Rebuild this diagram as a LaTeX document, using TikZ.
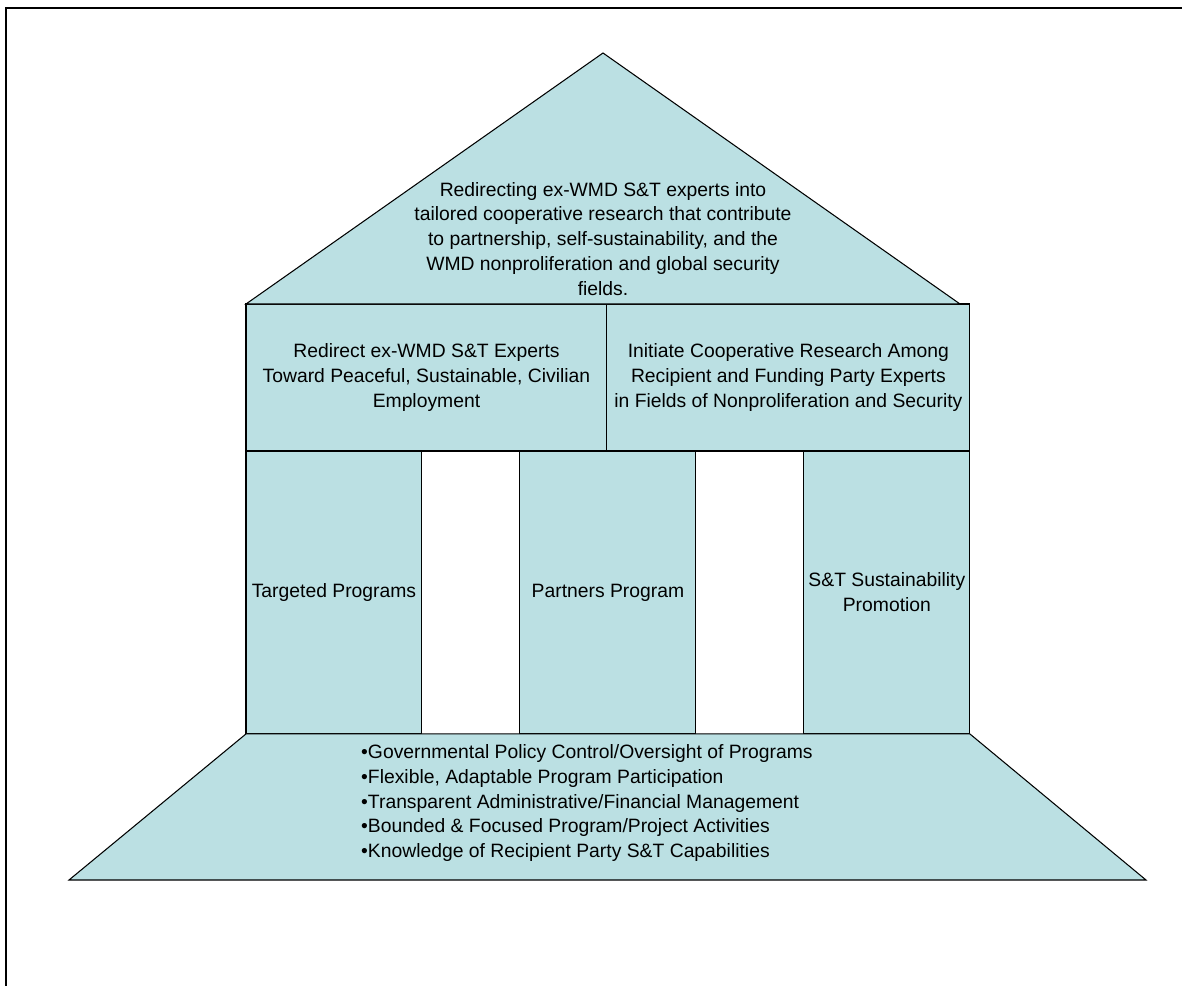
\documentclass[tikz,border=0pt]{standalone}
\usepackage{fontspec}
\setmainfont{Liberation Sans}
\usepackage{tikz}
\usetikzlibrary{positioning}
\definecolor{housefill}{HTML}{BBE0E3}
\tikzstyle{part} = [draw=black, line width=0.6pt, fill=housefill]
\tikzstyle{block} = [rectangle, draw=black, line width=0.6pt, fill=housefill, inner sep=0pt, outer sep=0pt, text centered, align=center]
\tikzstyle{goal} = [block, minimum height=2.94cm]
\tikzstyle{pillar} = [block, minimum height=5.66cm]
\tikzstyle{caption} = [align=center]

\begin{document}
\begin{tikzpicture}[x=0.02cm, y=-0.02cm, font=\fontsize{11}{14.2}\selectfont]
      \useasboundingbox (0,0) rectangle (1182,986);
      \draw[line width=1.1pt] (6,986) -- (6,8) -- (1182,8);
      \node (g1)[goal, minimum width=7.22cm, anchor=north west] at (246,304) {Redirect ex-WMD S\&T Experts\\Toward Peaceful, Sustainable, Civilian\\Employment};
      \node (g2)[goal, minimum width=7.26cm, right=0pt of g1]{Initiate Cooperative Research Among\\Recipient and Funding Party Experts\\in Fields of Nonproliferation and Security};
      \node (p1)[pillar, minimum width=3.52cm, below=0pt of g1.south west, anchor=north west]{Targeted Programs};
      \node (p2)[pillar, minimum width=3.52cm, right=1.96cm of p1]{Partners Program};
      \node (p3)[pillar, minimum width=3.32cm, right=2.16cm of p2]{S\&T Sustainability\\Promotion};
      \coordinate (apex) at (603,53);
      \coordinate (eave) at (960,304);
      \coordinate (foot1) at (69,880);
      \coordinate (foot2) at (1146,880);
      % roof and floor
      \draw[part] (g1.north west) -- (apex) -- (eave) -- cycle;
      \draw[part] (p1.south west) -- (p3.south east) -- (foot2) -- (foot1) -- cycle;
      \node (vision)[caption] at (603,239) {Redirecting ex-WMD S\&T experts into\\tailored cooperative research that contribute\\to partnership, self-sustainability, and the\\WMD nonproliferation and global security\\fields.};
      \node (basis)[caption, align=left, anchor=west] at (355,803) {•Governmental Policy Control/Oversight of Programs\\•Flexible, Adaptable Program Participation\\•Transparent Administrative/Financial Management\\•Bounded \& Focused Program/Project Activities\\•Knowledge of Recipient Party S\&T Capabilities};
    \end{tikzpicture}
\end{document}
